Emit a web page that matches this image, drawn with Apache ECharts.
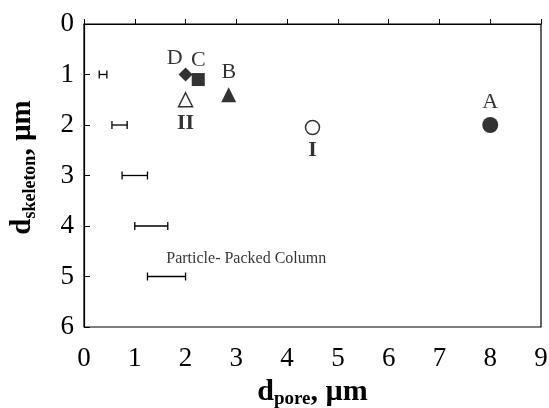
<!DOCTYPE html>
<html><head><meta charset="utf-8">
<script src="https://cdn.jsdelivr.net/npm/echarts@6/dist/echarts.min.js"></script>
<style>html,body{margin:0;padding:0;background:#fff}#c{width:549px;height:408px}</style>
</head><body><div id="c"></div>
<script>
// Monolith samples (d_pore, d_skeleton)
const ptA = [[8.0, 2.0]];
const ptB = [[2.85, 1.4]];
const ptC = [[2.25, 1.1]];
const ptD = [[2.0, 1.0]];
const ptOpenTri = [[2.0, 1.5]];
const ptOpenCirc = [[4.5, 2.05]];
const romanLabels = [[2.0, 1.97, 'II'], [4.5, 2.5, 'I']];
// Particle-packed column ranges: [xMin, xMax, y]
const ranges = [[0.3, 0.45, 1], [0.55, 0.85, 2], [0.75, 1.25, 3], [1.0, 1.65, 4], [1.25, 2.0, 5]];
const annot = [[1.62, 4.65, 'Particle- Packed Column']];
const xTicks = [0,1,2,3,4,5,6,7,8,9];
const yTicks = [0,1,2,3,4,5,6];

const serif = "'Liberation Serif', 'DejaVu Serif', serif";
const chart = echarts.init(document.getElementById('c'), null, {renderer: 'canvas'});
const lbl = (text, pos, dist, offset) => ({show: true, formatter: text, position: pos, distance: dist, offset: offset || [0, 0], color: '#000', fontFamily: serif, fontSize: 22});
chart.setOption({
  animation: false,
  grid: {left: 84, right: 8, top: 24, bottom: 81, outerBoundsMode: 'none', containLabel: false, show: true, borderColor: '#000', borderWidth: 1.2, backgroundColor: 'transparent'},
  xAxis: {
    type: 'value', min: xTicks[0], max: xTicks[xTicks.length-1], interval: 1,
    axisLine: {show: true, lineStyle: {color: '#000', width: 1.2}},
    axisTick: {show: true, inside: true, length: 5, lineStyle: {color: '#000'}},
    splitLine: {show: false},
    axisLabel: {color: '#000', fontFamily: serif, fontSize: 27, margin: 18},
    name: '{b|d}{s|pore}{b|, µm}', nameLocation: 'middle', nameGap: 43,
    nameTextStyle: {rich: {
      b: {fontFamily: serif, fontWeight: 'bold', fontSize: 30, color: '#000'},
      s: {fontFamily: serif, fontWeight: 'bold', fontSize: 19, color: '#000', padding: [15, 0, 0, 0]}
    }}
  },
  yAxis: {
    type: 'value', inverse: true, min: yTicks[0], max: yTicks[yTicks.length-1], interval: 1,
    axisLine: {show: true, lineStyle: {color: '#000', width: 1.2}},
    axisTick: {show: true, inside: true, length: 6, lineStyle: {color: '#000'}},
    splitLine: {show: false},
    axisLabel: {color: '#000', fontFamily: serif, fontSize: 27, margin: 10},
    name: '{b|d}{s|skeleton}{b|, µm}', nameLocation: 'middle', nameGap: 45, nameRotate: 90,
    nameTextStyle: {padding: [0, 0, 0, 16], rich: {
      b: {fontFamily: serif, fontWeight: 'bold', fontSize: 29, color: '#000'},
      s: {fontFamily: serif, fontWeight: 'bold', fontSize: 18, color: '#000', padding: [14, 0, 0, 0]}
    }}
  },
  series: [
    {type: 'custom', data: ranges, renderItem: function(params, api) {
      const p1 = api.coord([api.value(0), api.value(2)]);
      const p2 = api.coord([api.value(1), api.value(2)]);
      const h = 4;
      const st = {stroke: '#000', lineWidth: 1.3};
      return {type: 'group', children: [
        {type: 'line', shape: {x1: p1[0], y1: p1[1], x2: p2[0], y2: p2[1]}, style: st},
        {type: 'line', shape: {x1: p1[0], y1: p1[1]-h, x2: p1[0], y2: p1[1]+h}, style: st},
        {type: 'line', shape: {x1: p2[0], y1: p2[1]-h, x2: p2[0], y2: p2[1]+h}, style: st}
      ]};
    }},
    {type: 'scatter', data: ptA, symbol: 'circle', symbolSize: 16, itemStyle: {color: '#000'}, label: lbl('A', 'top', 4)},
    {type: 'scatter', data: ptB, symbol: 'triangle', symbolSize: 15, itemStyle: {color: '#000'}, label: lbl('B', 'top', 4)},
    {type: 'scatter', data: ptC, symbol: 'rect', symbolSize: 13, itemStyle: {color: '#000'}, label: lbl('C', 'top', 2)},
    {type: 'scatter', data: ptD, symbol: 'diamond', symbolSize: [14, 14], itemStyle: {color: '#000'}, label: lbl('D', 'left', 0, [4, -16]), z: 3},
    {type: 'scatter', data: ptOpenTri, symbol: 'triangle', symbolSize: 14, itemStyle: {color: '#fff', borderColor: '#000', borderWidth: 1.5}},
    {type: 'scatter', data: ptOpenCirc, symbol: 'circle', symbolSize: 14, itemStyle: {color: '#fff', borderColor: '#000', borderWidth: 1.5}},
    {type: 'scatter', data: romanLabels, symbolSize: 0, label: {show: true, position: 'inside', formatter: p => p.value[2], color: '#000', fontFamily: serif, fontWeight: 'bold', fontSize: 22}},
    {type: 'scatter', data: annot, symbolSize: 0, label: {show: true, position: 'right', distance: 0, formatter: p => p.value[2], color: '#000', fontFamily: serif, fontSize: 16}}
  ]
});
</script></body></html>
